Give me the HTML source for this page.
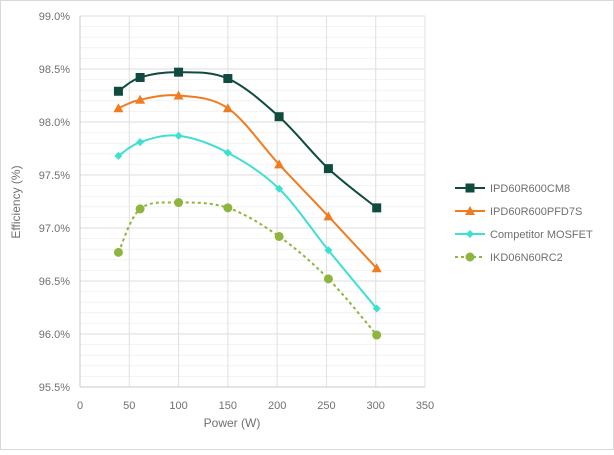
<!DOCTYPE html>
<html><head><meta charset="utf-8"><style>
body{margin:0;background:#fff;font-family:"Liberation Sans",sans-serif}
svg text{font-family:"Liberation Sans",sans-serif;fill:#707070}
</style></head><body>
<svg width="614" height="450">
<rect x="0.5" y="0.5" width="613" height="449" fill="#fff" stroke="#d9d9d9"/>
<g id="grid"></g><g id="axes"></g><g id="series"></g><g id="legend"></g>
<text x="232" y="427" font-size="12" text-anchor="middle">Power (W)</text>
<text transform="translate(20,202) rotate(-90)" font-size="12" text-anchor="middle">Efficiency (%)</text>
</svg>
<script>
const xPower=[39,61,100,150,202,252,301];
const seriesNames=["IPD60R600CM8","IPD60R600PFD7S","Competitor MOSFET","IKD06N60RC2"];
const cm8=[98.29,98.42,98.47,98.41,98.05,97.56,97.19];
const pfd7s=[98.13,98.21,98.25,98.13,97.60,97.11,96.62];
const competitor=[97.68,97.81,97.87,97.71,97.37,96.79,96.24];
const ikd=[96.77,97.18,97.24,97.19,96.92,96.52,95.99];
const xTicks=[0,50,100,150,200,250,300,350];
const yTicks=[95.5,96.0,96.5,97.0,97.5,98.0,98.5,99.0];
const NS="http://www.w3.org/2000/svg";
const X=v=>80+v*(345/350), Y=v=>16+(99-v)*106;
function mk(t,a,p){const e=document.createElementNS(NS,t);for(const k in a)e.setAttribute(k,a[k]);p.appendChild(e);return e;}
const grid=document.getElementById('grid'),axes=document.getElementById('axes'),ser=document.getElementById('series'),leg=document.getElementById('legend');
for(let i=0;i<=35;i++){const v=95.5+i*0.1;const major=i%5===0;
 const l=mk('line',{x1:X(0),x2:X(350),y1:Y(v),y2:Y(v),stroke:major?'#dcdcdc':'#f2f2f2','stroke-width':1},grid);
 
 }
xTicks.forEach(t=>{if(t>0){const l=mk('line',{x1:X(t),x2:X(t),y1:Y(99),y2:Y(95.5),stroke:'#e0e0e0'},grid);
 
 }
 const tx=mk('text',{x:X(t),y:409,'font-size':11,'text-anchor':'middle'},axes);tx.textContent=t;
 
 });
yTicks.forEach(t=>{const tx=mk('text',{x:70,y:Y(t)+4,'font-size':11,'text-anchor':'end'},axes);tx.textContent=t.toFixed(1)+'%';
 
 });
const lx=mk('line',{x1:X(0),x2:X(0),y1:Y(99),y2:Y(95.5),stroke:'#c8c8c8'},axes);


const bx=mk('line',{x1:X(0),x2:X(350),y1:Y(95.5),y2:Y(95.5),stroke:'#c8c8c8'},axes);


function smooth(pts){let d=`M${pts[0][0]},${pts[0][1]}`;
 for(let i=0;i<pts.length-1;i++){const p0=pts[i-1]||pts[i],p1=pts[i],p2=pts[i+1],p3=pts[i+2]||p2;
  const c1=[p1[0]+(p2[0]-p0[0])/6,p1[1]+(p2[1]-p0[1])/6],c2=[p2[0]-(p3[0]-p1[0])/6,p2[1]-(p3[1]-p1[1])/6];
  d+=`C${c1[0]},${c1[1]} ${c2[0]},${c2[1]} ${p2[0]},${p2[1]}`;}return d;}
function marker(shape,x,y,c,g){let m;
 if(shape==='sq')m=mk('rect',{x:x-4.5,y:y-4.5,width:9,height:9,fill:c},g);
 else if(shape==='tri')m=mk('polygon',{points:`${x},${y-5} ${x+5},${y+4} ${x-5},${y+4}`,fill:c},g);
 else if(shape==='dia')m=mk('polygon',{points:`${x},${y-4} ${x+4},${y} ${x},${y+4} ${x-4},${y}`,fill:c},g);
 else m=mk('circle',{cx:x,cy:y,r:4.5,fill:c},g);return m;}
const all=[[cm8,'#0f4c3f','sq',''],[pfd7s,'#f07c22','tri',''],[competitor,'#3ee0d2','dia',''],[ikd,'#8fb53e','circ','3,3']];
all.forEach((s,si)=>{const g=mk('g',{},ser);
 
 
 const pts=s[0].map((v,i)=>[X(xPower[i]),Y(v)]);
 const p=mk('path',{d:smooth(pts),fill:'none',stroke:s[1],'stroke-width':2,'stroke-dasharray':s[3]||'none'},g);
 
 
 pts.forEach(q=>{const m=marker(s[2],q[0],q[1],s[1],g);
  
  });
 const ly=188+si*23;const lg=mk('g',{},leg);
 
 
 mk('line',{x1:455,x2:485,y1:ly,y2:ly,stroke:s[1],'stroke-width':2,'stroke-dasharray':s[3]||'none'},lg);
 marker(s[2],470,ly,s[1],lg);
 const t=mk('text',{x:490,y:ly+4,'font-size':11},lg);t.textContent=seriesNames[si];});
</script>
</body></html>
